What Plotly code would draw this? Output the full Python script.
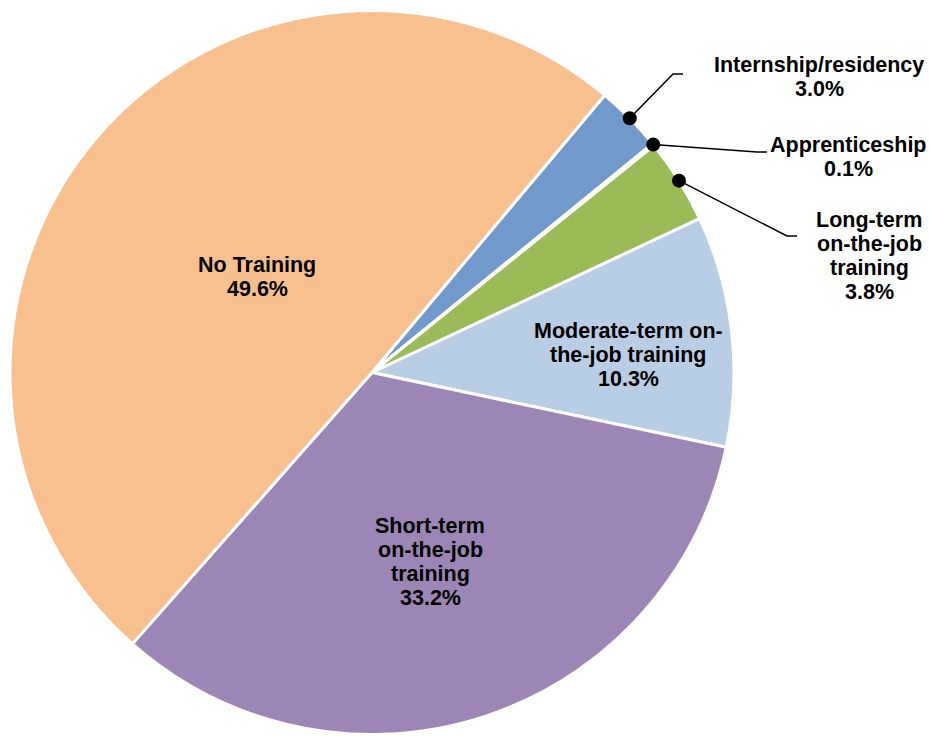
import math
import plotly.graph_objects as go

# Training categories (clockwise from the first slice) and their shares in percent
categories = [
    "Internship/residency",
    "Apprenticeship",
    "Long-term\non-the-job\ntraining",
    "Moderate-term on-\nthe-job training",
    "Short-term\non-the-job\ntraining",
    "No Training",
]
shares = [3.0, 0.1, 3.8, 10.3, 33.2, 49.6]
colors = ["#7199CB", "#C0504D", "#9BBB59", "#B9CDE5", "#9C86B6", "#F9C08F"]

# Canvas and pie geometry (pixels)
W, H = 930, 736
CX, CY, R = 372, 372.5, 362
START_ANGLE = 40  # degrees clockwise from 12 o'clock

# Label placement: centre x and first baseline y (pixels); None = no leader line
label_pos = [(819, 73), (848, 153), (869, 228), (628, 339), (430, 534), (257, 273)]
leader_elbow = [((673, 74), (683, 74)), ((757, 152), (767, 152)), ((787, 236), (797, 236)),
                None, None, None]

FONT = "Liberation Sans, Arial, sans-serif"
FS = 21.5
LINE_STEP = 24
DOT_R = 7

fig = go.Figure()

fig.add_trace(go.Pie(
    labels=[c.replace("-\n", "-").replace("\n", " ") for c in categories],
    values=shares,
    sort=False,
    direction="clockwise",
    rotation=START_ANGLE,
    marker=dict(colors=colors, line=dict(color="white", width=3)),
    textinfo="none",
    showlegend=False,
    domain=dict(x=[(CX - R) / W, (CX + R) / W],
                y=[(H - CY - R) / H, (H - CY + R) / H]),
))

# Leader lines and rim dots for the small slices (drawn above the pie)
shapes = []
total = sum(shares)
cum = 0.0
for share, elbow in zip(shares, leader_elbow):
    mid = START_ANGLE + (cum + share / 2) / total * 360
    cum += share
    if elbow is None:
        continue
    px = CX + R * math.sin(math.radians(mid))
    py = CY - R * math.cos(math.radians(mid))
    path = f"M{px},{py} L{elbow[0][0]},{elbow[0][1]} L{elbow[1][0]},{elbow[1][1]}"
    shapes.append(dict(type="path", path=path, xref="x", yref="y", layer="above",
                       line=dict(color="black", width=1.5)))
    shapes.append(dict(type="circle", xref="x", yref="y", layer="above",
                       x0=px - DOT_R, x1=px + DOT_R, y0=py - DOT_R, y1=py + DOT_R,
                       fillcolor="black", line=dict(color="black", width=0)))

# Category labels with their percentages
annotations = []
for cat, share, (lx, ly) in zip(categories, shares, label_pos):
    lines = cat.split("\n") + [f"{share:.1f}%"]
    for i, txt in enumerate(lines):
        base = ly + i * LINE_STEP
        annotations.append(dict(
            x=lx, y=base - 0.36 * FS, xref="x", yref="y",
            text=f"<b>{txt}</b>", showarrow=False,
            xanchor="center", yanchor="middle",
            font=dict(family=FONT, size=FS, color="black"),
        ))

fig.update_layout(
    width=W, height=H,
    margin=dict(l=0, r=0, t=0, b=0),
    paper_bgcolor="white", plot_bgcolor="rgba(0,0,0,0)",
    xaxis=dict(range=[0, W], visible=False, domain=[0, 1], fixedrange=True),
    yaxis=dict(range=[H, 0], visible=False, domain=[0, 1], fixedrange=True),
    shapes=shapes,
    annotations=annotations,
)

fig.write_html("out.html")
